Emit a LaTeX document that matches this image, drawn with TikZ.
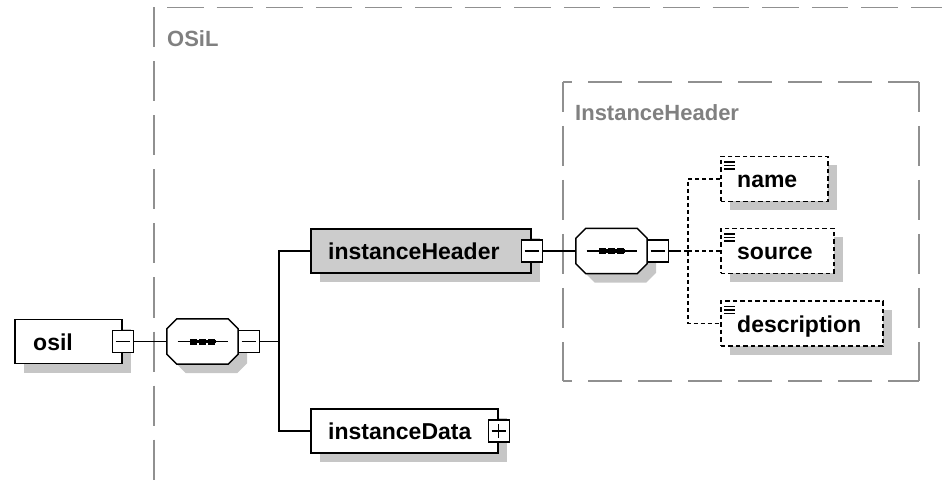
\documentclass[tikz,border=0pt]{standalone}
\usepackage{fontspec}
\setmainfont{Liberation Sans}
\usetikzlibrary{shadows,calc}
\definecolor{shadegray}{HTML}{C6C6C6}
\definecolor{boxgray}{HTML}{CCCCCC}
\definecolor{framegray}{HTML}{909090}
\definecolor{titlegray}{HTML}{808080}
\tikzset{
  boxshadow/.style={drop shadow={shadow xshift=9pt,shadow yshift=-9pt,opacity=1,fill=shadegray}},
  elembox/.style={rectangle,draw=black,line width=1.7pt,fill=white,inner sep=0pt,minimum height=44pt,anchor=west,boxshadow},
  childbox/.style={elembox,dash pattern=on 4.5pt off 3pt,line width=1.6pt,minimum height=45pt},
  elemtext/.style={anchor=base west,inner sep=0pt,font=\fontsize{23}{27}\selectfont\bfseries},
  titletext/.style={anchor=base west,inner sep=0pt,text=titlegray,font=\fontsize{22}{26}\selectfont\bfseries},
  toggle/.style={rectangle,draw=black,line width=1.3pt,fill=white,inner sep=0pt,minimum width=21pt,minimum height=22pt},
  seqslot/.style={rectangle,inner sep=0pt,minimum width=71pt,minimum height=45pt},
  seqoct/.style={draw=black,line width=1.5pt,fill=white,boxshadow},
  conn/.style={draw=black,line width=1.5pt},
  optconn/.style={draw=black,line width=1.5pt,dash pattern=on 4pt off 3pt},
  frameline/.style={draw=framegray,line width=1.8pt},
  togglemark/.style={line width=1.4pt}
}
\begin{document}
\begin{tikzpicture}[x=1pt,y=-1pt]
\useasboundingbox (0,0) rectangle (942,486);

% group frames
\draw[frameline,dash pattern=on 40pt off 14pt] (154,7.5) -- (154,486);
\draw[frameline,dash pattern=on 36.6pt off 13pt,dash phase=36.6pt] (154,7.5) -- (942,7.5);
\draw[frameline,dash pattern=on 40pt off 14pt,dash phase=10pt] (563,82) -- (563,381);
\draw[frameline,dash pattern=on 40pt off 14pt,dash phase=10pt] (919,82) -- (919,381);
\draw[frameline,dash pattern=on 34pt off 16pt,dash phase=25pt] (563,82) -- (919,82);
\draw[frameline,dash pattern=on 34pt off 16pt,dash phase=25pt] (563,381) -- (919,381);
\node[titletext] (osilTitle) at (167,47) {OSiL};
\node[titletext] (ihTitle) at (575,121) {InstanceHeader};

% elements
\node[elembox,minimum width=107pt] (osil) at (14,341.5) {};
\node[elemtext] (osilLabel) at ($(osil.west)+(19,8.5)$) {osil};
\node[elembox,fill=boxgray,minimum width=220pt] (ih) at (310,251) {};
\node[elemtext] (ihLabel) at ($(ih.west)+(18,8.5)$) {instanceHeader};
\node[elembox,minimum width=187pt] (idata) at (310,431) {};
\node[elemtext] (idataLabel) at ($(idata.west)+(18,8.5)$) {instanceData};

% sequence compositors: chamfered octagon with the "---" sequence sign
\node[seqslot] (seqA) at (202.5,341.5) {};
\node[seqslot] (seqB) at (611.5,251) {};
\foreach \s in {seqA,seqB}{
  \draw[seqoct] ($(\s.north west)+(10,0)$) -- ($(\s.north east)+(-10,0)$)
    -- ($(\s.north east)+(0,10)$) -- ($(\s.south east)+(0,-10)$)
    -- ($(\s.south east)+(-10,0)$) -- ($(\s.south west)+(10,0)$)
    -- ($(\s.south west)+(0,-10)$) -- ($(\s.north west)+(0,10)$) -- cycle;
  \draw[conn] ([xshift=-25pt]\s.center) -- ([xshift=25pt]\s.center);
  \fill ($(\s.center)+(-13,-1.6)$) rectangle ($(\s.center)+(13,1.6)$);
  \foreach \d in {-9,0,9}
    \fill ($(\s.center)+(\d-3.3,-3)$) rectangle ++(6.6,6);
}

% optional child elements
\node[childbox,minimum width=107pt] (name) at (720,179) {};
\node[elemtext] (nameLabel) at ($(name.west)+(17,8.5)$) {name};
\node[childbox,minimum width=113pt] (source) at (720,251) {};
\node[elemtext] (sourceLabel) at ($(source.west)+(17,8.5)$) {source};
\node[childbox,minimum width=162pt] (desc) at (720,323.5) {};
\node[elemtext] (descLabel) at ($(desc.west)+(17,8.5)$) {description};
\foreach \c in {name,source,desc}
  \foreach \k in {6.5,10,13.5}
    \draw[line width=1.5pt] ($(\c.north west)+(4,\k)$) -- ++(11,0);

% expand / collapse toggles
\node[toggle] (osilT) at (osil.east) {};
\node[toggle] (ihT) at (ih.east) {};
\node[toggle] (idataT) at (idata.east) {};
\node[toggle] (seqAT) at ($(seqA.east)+(10.5,0)$) {};
\node[toggle] (seqBT) at ($(seqB.east)+(10.5,0)$) {};
\foreach \t in {osilT,ihT,idataT,seqAT,seqBT}
  \draw[togglemark] ([xshift=-7pt]\t.center) -- ([xshift=7pt]\t.center);
\draw[togglemark] ([yshift=-7pt]idataT.center) -- ([yshift=7pt]idataT.center);

% connectors
\coordinate (jA) at (279,341.5);
\coordinate (sB) at (677,251);
\coordinate (jB) at (688,251);
\draw[conn] (osilT.east) -- (seqA.west);
\draw[conn] (seqAT.east) -- (jA);
\draw[conn] (ih.west) -| (jA) |- (idata.west);
\draw[conn] (ihT.east) -- (seqB.west);
\draw[conn] (seqBT.east) -- (sB);
\draw[optconn] (sB) -- (jB);
\draw[optconn] (name.west) -| (jB) |- (desc.west);
\draw[optconn] (jB) -- (source.west);
\end{tikzpicture}
\end{document}
